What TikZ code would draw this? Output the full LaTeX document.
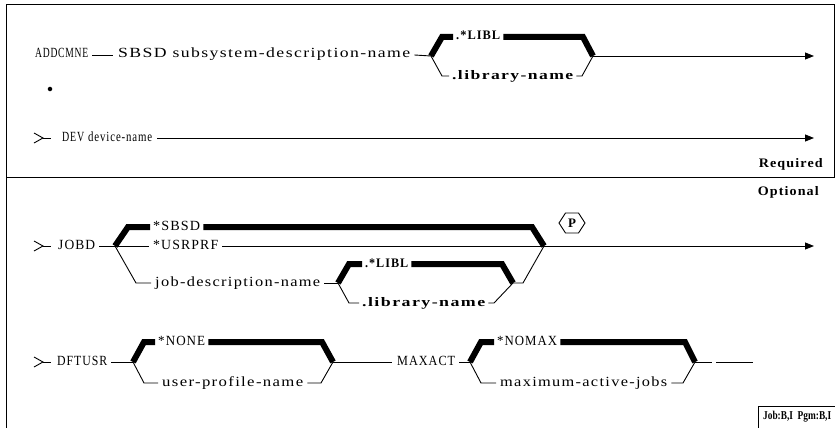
\documentclass[tikz,border=0pt]{standalone}
\usepackage{fontspec}
\usepackage{graphicx}
\setmainfont{Liberation Serif}
\newfontfamily\lightf[LetterSpace=8]{Liberation Serif}
\newfontfamily\boldf[LetterSpace=8]{Liberation Serif}
\newcommand\fitw[2]{\resizebox{#1pt}{\height}{#2}}
\usetikzlibrary{arrows.meta}
\tikzset{
  lbl/.style={inner sep=0pt, anchor=west, text height=9pt, text depth=3pt, font=\lightf\fontsize{14}{15}\selectfont},
  blbl/.style={inner sep=0pt, anchor=west, text height=9pt, text depth=3pt, font=\boldf\bfseries\fontsize{13}{14}\selectfont},
  thinln/.style={line width=0.9pt},
  heavy/.style={line width=6pt, line cap=butt, line join=miter},
  arr/.style={thinln, -{Triangle[length=9pt,width=7pt]}},
  frameln/.style={line width=1pt},
  chev/.style={thinln, line join=miter},
}
\begin{document}
\begin{tikzpicture}[x=1pt, y=-1pt]
\useasboundingbox (0,0) rectangle (835,428);
% frame
\draw[frameln] (6,428) -- (6,5) -- (835,5);
\draw[frameln] (834,5) -- (834,177);
\draw[frameln] (6,177) -- (835,177);
\node[blbl, anchor=east] (req) at (823,164) {\fitw{64}{Required}};
\node[blbl, anchor=east] (opt) at (819,192) {\fitw{61}{Optional}};

% ---------- row 1
\node[lbl] (addc) at (35,55) {\fitw{53}{ADDCMNE}};
\node[lbl] (sbsd) at (118,55) {\fitw{292}{SBSD subsystem-description-name}};
\draw[thinln] ([xshift=4pt]addc.east) -- ([xshift=-5pt]sbsd.west);
\coordinate (j1a) at (431,56);
\coordinate (j1b) at (593,56);
\coordinate (e1) at (814,56);
\draw[thinln] ([xshift=4pt]sbsd.east) -- (j1a);
\node[blbl] (libla) at (456,37) {\fitw{44}{.*LIBL}};
\node[blbl] (liba) at (452,76) {\fitw{121}{.library-name}};
\draw[heavy] (j1a) -- (442,37) -- ([xshift=-3pt]libla.west);
\draw[heavy] ([xshift=3pt]libla.east) -- (583,37) -- (j1b);
\draw[thinln] (j1a) -- (442,76) -- ([xshift=-3pt]liba.west);
\draw[thinln] ([xshift=3pt]liba.east) -- (582,76) -- (j1b);
\draw[arr] (j1b) -- (e1);
\node[circle, fill, inner sep=1.6pt] (dot) at (50,89) {};

% ---------- row 2
\draw[chev] (34,133) -- (43,138) -- (34,143);
\draw[thinln] (43,138) -- (51,138);
\node[lbl] (dev) at (62,138) {\fitw{22}{DEV}};
\node[lbl] (devn) at (88,138) {\fitw{64}{device-name}};
\coordinate (e2) at (814,138);
\draw[arr] ([xshift=5pt]devn.east) -- (e2);

% ---------- JOBD
\draw[chev] (34,241) -- (43,246) -- (34,251);
\draw[thinln] (43,246) -- (51,246);
\node[lbl] (jobd) at (58,246) {\fitw{37}{JOBD}};
\coordinate (j3a) at (115,246);
\coordinate (j3b) at (544,246);
\coordinate (e3) at (814,246);
\draw[thinln] ([xshift=4pt]jobd.east) -- (j3a);
\node[lbl] (sbsdb) at (153,227) {\fitw{47}{*SBSD}};
\draw[heavy] (j3a) -- (128,227) -- ([xshift=-3pt]sbsdb.west);
\draw[heavy] ([xshift=3pt]sbsdb.east) -- (532,227) -- (j3b);
\node[lbl] (usr) at (153,246) {\fitw{65}{*USRPRF}};
\draw[thinln] (j3a) -- ([xshift=-4pt]usr.west);
\draw[thinln] ([xshift=4pt]usr.east) -- (j3b);
\node[lbl] (jdn) at (155,283) {\fitw{165}{job-description-name}};
\draw[thinln] (j3a) -- (136,283) -- ([xshift=-4pt]jdn.west);
\coordinate (j4a) at (338,283);
\coordinate (j4b) at (513,283);
\draw[thinln] ([xshift=4pt]jdn.east) -- (j4a);
\node[blbl] (liblb) at (365,264) {\fitw{43}{.*LIBL}};
\draw[heavy] (j4a) -- (349,264) -- ([xshift=-3pt]liblb.west);
\draw[heavy] ([xshift=3pt]liblb.east) -- (502,264) -- (j4b);
\node[blbl] (libb) at (362,303) {\fitw{123}{.library-name}};
\draw[thinln] (j4a) -- (349,303) -- ([xshift=-3pt]libb.west);
\draw[thinln] ([xshift=3pt]libb.east) -- (494,303) -- (j4b);
\draw[thinln] (j4b) -- (523,283) -- (j3b);
\draw[arr] (j3b) -- (e3);
\node[font=\bfseries\fontsize{13}{14}\selectfont, inner sep=0pt] (P) at (572,223) {P};
\draw[thinln] ([shift={(-13,0)}]P.center) -- ([shift={(-6.5,-10)}]P.center) -- ([shift={(6.5,-10)}]P.center) -- ([shift={(13,0)}]P.center) -- ([shift={(6.5,10)}]P.center) -- ([shift={(-6.5,10)}]P.center) -- cycle;

% ---------- DFTUSR
\draw[chev] (34,357) -- (43,362) -- (34,367);
\draw[thinln] (43,362) -- (51,362);
\node[lbl] (dft) at (57,362) {\fitw{50}{DFTUSR}};
\coordinate (j5a) at (133,362);
\coordinate (j5b) at (333,362);
\draw[thinln] ([xshift=4pt]dft.east) -- (j5a);
\node[lbl] (none) at (158,342) {\fitw{47}{*NONE}};
\draw[heavy] (j5a) -- (144,342) -- ([xshift=-3pt]none.west);
\draw[heavy] ([xshift=3pt]none.east) -- (322,342) -- (j5b);
\node[lbl] (upn) at (162,383) {\fitw{141}{user-profile-name}};
\draw[thinln] (j5a) -- (144,383) -- ([xshift=-4pt]upn.west);
\draw[thinln] ([xshift=4pt]upn.east) -- (321,383) -- (j5b);
\node[lbl] (maxact) at (397,362) {\fitw{58}{MAXACT}};
\draw[thinln] (j5b) -- ([xshift=-5pt]maxact.west);
\coordinate (j6a) at (470,362);
\coordinate (j6b) at (695,362);
\draw[thinln] ([xshift=4pt]maxact.east) -- (j6a);
\node[lbl] (nomax) at (497,342) {\fitw{60}{*NOMAX}};
\draw[heavy] (j6a) -- (481,342) -- ([xshift=-3pt]nomax.west);
\draw[heavy] ([xshift=3pt]nomax.east) -- (685,342) -- (j6b);
\node[lbl] (maj) at (500,383) {\fitw{167}{maximum-active-jobs}};
\draw[thinln] (j6a) -- (481,383) -- ([xshift=-4pt]maj.west);
\draw[thinln] ([xshift=4pt]maj.east) -- (683,383) -- (j6b);
\coordinate (t1) at (712,362);
\coordinate (t2) at (716,362);
\coordinate (t3) at (753,362);
\draw[thinln] (j6b) -- (t1);
\draw[thinln] (t2) -- (t3);

% ---------- job box
\draw[frameln] (758,428) -- (758,406) -- (835,406);
\node[font=\bfseries\fontsize{12}{13}\selectfont, inner sep=0pt, anchor=west] (job) at (763,417) {\fitw{68}{Job:B,I\ \ Pgm:B,I}};
\end{tikzpicture}
\end{document}
